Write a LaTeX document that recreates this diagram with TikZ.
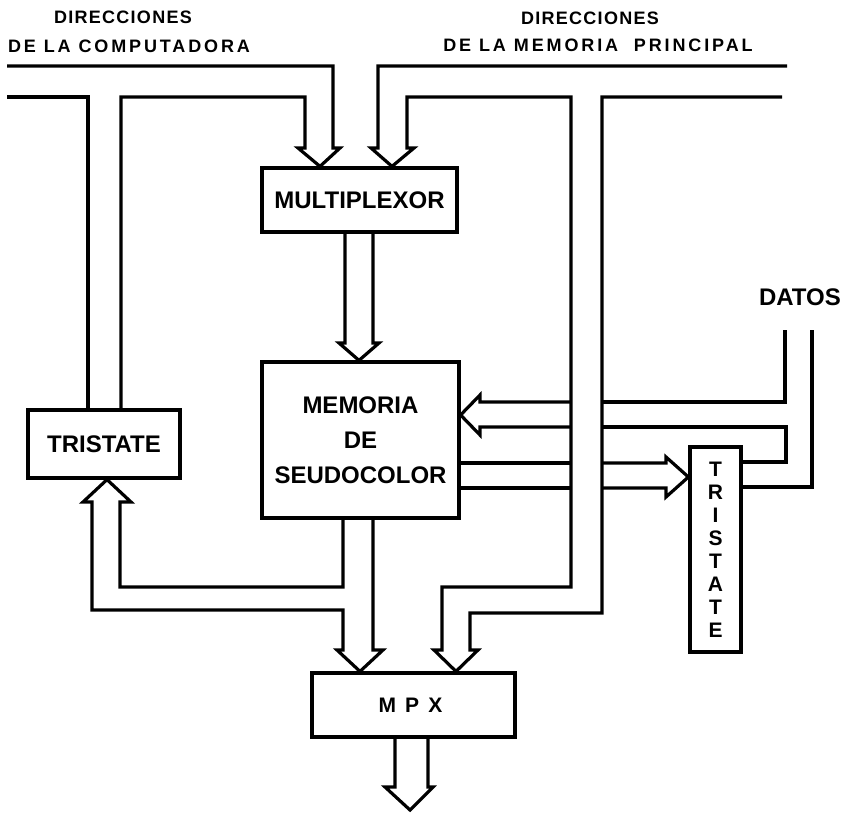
\documentclass[tikz,border=0pt]{standalone}
\usepackage{fontspec}
\setmainfont{Liberation Sans}
\newfontfamily\lblfont{Liberation Sans}[LetterSpace=16]
\newfontfamily\dirfont{Liberation Sans}[LetterSpace=7]
\usetikzlibrary{positioning}

\begin{document}
\begin{tikzpicture}[
  x=1pt, y=-1pt,
  box/.style={draw, line width=3.2pt, inner sep=0pt, align=center,
    font=\bfseries\fontsize{24}{35}\selectfont},
  lbl/.style={inner sep=0pt, font=\lblfont\bfseries\fontsize{18}{20}\selectfont},
  dirlbl/.style={inner sep=0pt, font=\dirfont\bfseries\fontsize{18}{20}\selectfont},
  bus/.style={line width=3.2pt}
]
\useasboundingbox (0,0) rectangle (848,813);

% blocks
\node[box, minimum width=195pt, minimum height=64pt] (mux) at (359.5,200) {MULTIPLEXOR};
\node[box, minimum width=197pt, minimum height=156pt] (mem) at (360.5,440) {MEMORIA\\DE\\SEUDOCOLOR};
\node[box, minimum width=152pt, minimum height=68pt] (tsl) at (104,444) {TRISTATE};
\node[box, minimum width=51pt, minimum height=205pt,
  font=\bfseries\fontsize{21}{23}\selectfont] (tsr) at (715.5,549.5) {T\\R\\I\\S\\T\\A\\T\\E};
\node[box, minimum width=203pt, minimum height=64pt,
  font=\lblfont\bfseries\fontsize{21}{24}\selectfont] (mpx) at (413.5,705) {M P X\hspace{6pt}};

% labels
\node[dirlbl] (dircomp) at (123,17) {DIRECCIONES};
\node[lbl] (comp) at (129,46) {DE LA COMPUTADORA};
\node[dirlbl] (dirmem) at (590,18) {DIRECCIONES};
\node[lbl] (memp) at (598,45) {DE LA MEMORIA~~PRINCIPAL};
\node[box, draw=none] (datos) at (800,297) {DATOS};
\coordinate (datA) at (785,330);
\coordinate (datB) at (812,330);
\coordinate (out) at (410,810);

% bus de la computadora
\draw[bus] (7,97) -- (88,97) -- (88,0 |- tsl.north);
\draw[bus] (121,0 |- tsl.north) -- (121,97) -- (305,97) -- (305,148) -- (298,148)
  -- (320,0 |- mux.north) -- (340,148) -- (333,148) -- (333,66) -- (7,66);

% bus de la memoria principal
\draw[bus] (787,66) -- (378,66) -- (378,148) -- (371,148) -- (392,0 |- mux.north)
  -- (414,148) -- (407,148) -- (407,97) -- (571,97) -- (571,587) -- (442,587)
  -- (442,650) -- (434,650) -- (456,0 |- mpx.north) -- (478,650) -- (470,650)
  -- (470,613) -- (602,613) -- (602,97) -- (782,97);

% multiplexor -> memoria
\draw[bus] (345,0 |- mux.south) -- (345,343) -- (339,343) -- (359,0 |- mem.north)
  -- (379,343) -- (373,343) -- (373,0 |- mux.south);

% memoria -> tristate, mpx
\draw[bus] (343,0 |- mem.south) -- (343,587) -- (120,587) -- (120,502) -- (131,502)
  -- (107,0 |- tsl.south) -- (83,502) -- (92,502) -- (92,610) -- (343,610)
  -- (343,650) -- (337,650) -- (360,0 |- mpx.north) -- (383,650) -- (373,650)
  -- (373,0 |- mem.south);

% datos
\draw[bus] (datA) -- (785,402) -- (602,402);
\draw[bus] (571,402) -- (480,402) -- (480,395) -- (mem.east |- 0,415)
  -- (480,435) -- (480,427) -- (571,427);
\draw[bus] (602,427) -- (786,427) -- (786,462) -- (tsr.east |- 0,462);
\draw[bus] (datB) -- (812,487) -- (tsr.east |- 0,487);
\draw[bus] (mem.east |- 0,463) -- (571,463);
\draw[bus] (mem.east |- 0,488) -- (571,488);
\draw[bus] (602,463) -- (666,463) -- (666,457) -- (tsr.west |- 0,477)
  -- (666,497) -- (666,488) -- (602,488);

% salida
\draw[bus] (395,0 |- mpx.south) -- (395,787) -- (385,787) -- (out)
  -- (433,787) -- (428,787) -- (428,0 |- mpx.south);
\end{tikzpicture}
\end{document}
